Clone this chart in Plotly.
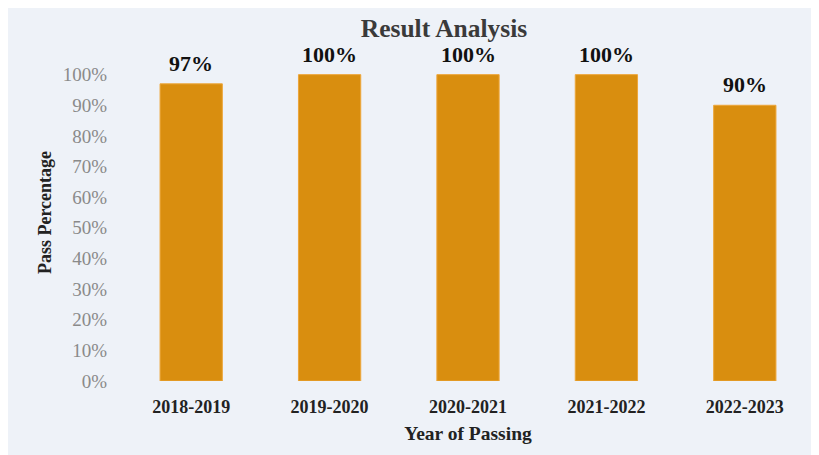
import plotly.graph_objects as go

# ── Data ─────────────────────────────────────────────────────────────────────
years = ["2018-2019", "2019-2020", "2020-2021", "2021-2022", "2022-2023"]
pass_pct = [0.97, 1.00, 1.00, 1.00, 0.90]
tick_vals = [0, 0.1, 0.2, 0.3, 0.4, 0.5, 0.6, 0.7, 0.8, 0.9, 1.0]

# ── Theme ────────────────────────────────────────────────────────────────────
# the page body keeps its default 8px margin (white strip top/left);
# the figure runs past the window on the right/bottom so the panel reaches the edge
W, H = 819, 455
BG = "#eef2f8"
BAR = "#d98e0f"
SERIF = "Liberation Serif, Times New Roman, serif"

fig = go.Figure(go.Bar(
    x=years,
    y=pass_pct,
    marker=dict(color=BAR, line=dict(color="#eda63a", width=1)),
))

# value labels above each bar
for yr, v in zip(years, pass_pct):
    fig.add_annotation(
        x=yr, y=v, text=f"<b>{v:.0%}</b>", showarrow=False,
        yanchor="bottom", yshift=6,
        font=dict(family=SERIF, size=22, color="#111111"),
    )

fig.update_layout(
    width=W, height=H,
    margin=dict(l=114, r=13, t=36, b=82, autoexpand=False),
    paper_bgcolor=BG,
    plot_bgcolor=BG,
    bargap=0.55,
    showlegend=False,
    title=dict(
        text="<b>Result Analysis</b>",
        x=436 / W, xref="container", xanchor="center",
        y=1 - 20 / H, yref="container", yanchor="middle",
        font=dict(family=SERIF, size=25.5, color="#3a3a3a"),
    ),
    xaxis=dict(
        title=dict(text="<b>Year of Passing</b>", standoff=10,
                   font=dict(family=SERIF, size=19.5, color="#222222")),
        tickfont=dict(family=SERIF, size=18, color="#222222"),
        tickvals=years, ticktext=[f"<b>{y}</b>" for y in years],
        showline=False, showgrid=False, ticks="",
        ticklabelstandoff=13, automargin=False,
    ),
    yaxis=dict(
        title=dict(text="<b>Pass Percentage</b>", standoff=6,
                   font=dict(family=SERIF, size=18, color="#222222")),
        range=[0, 1.1],
        tickvals=tick_vals,
        tickformat=".0%",
        tickfont=dict(family=SERIF, size=19, color="#8a8a8a"),
        showgrid=False, zeroline=False, showline=False, ticks="",
        ticklabelstandoff=14, automargin=False,
    ),
)

fig.write_html("out.html")
